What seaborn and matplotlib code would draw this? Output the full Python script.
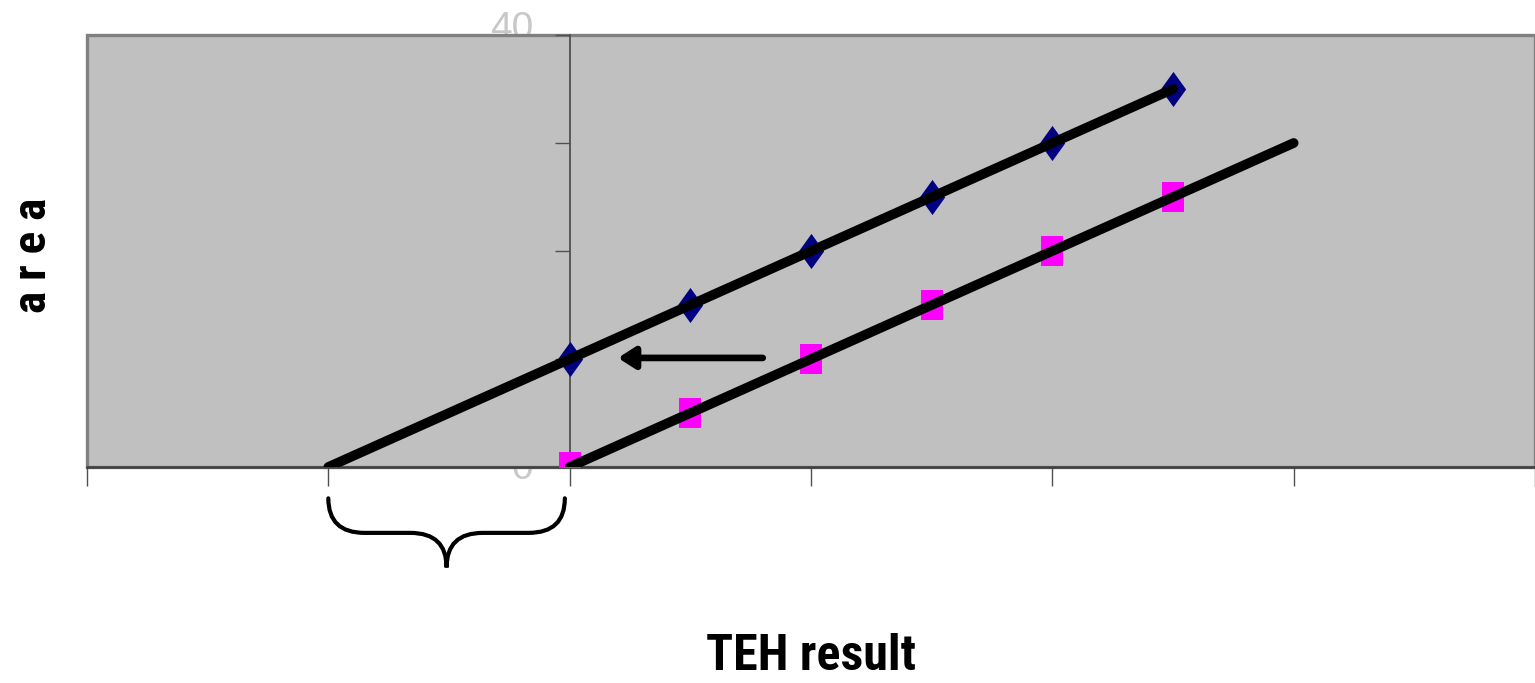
import matplotlib
matplotlib.use("Agg")
import matplotlib.pyplot as plt
from matplotlib.path import Path
from matplotlib.patches import PathPatch
import seaborn as sns

# values
x_points = [0, 0.5, 1, 1.5, 2, 2.5]
spiked = [10, 15, 20, 25, 30, 35]      # navy diamonds
unspiked = [0, 5, 10, 15, 20, 25]      # magenta squares
fit1_x = [-1, 2.5]
fit1_y = [0, 35]
fit2_x = [0, 3]
fit2_y = [0, 30]
x_ticks = [-2, -1, 0, 1, 2, 3, 4]
y_ticks = [0, 10, 20, 30, 40]
y_labels = ["0", "40"]
y_label_vals = [0, 40]

sns.set_style("white")
narrow = ['Liberation Sans Narrow', 'Roboto Condensed', 'Liberation Sans', 'DejaVu Sans']
plt.rcParams['font.family'] = narrow
plt.rcParams['text.color'] = 'black'
plt.rcParams['axes.labelcolor'] = 'black'

fig = plt.figure(figsize=(15.35, 6.83), dpi=100)
ax = fig.add_axes([87/1535, 216/683, 1448/1535, 432/683])
ax.set_facecolor('#C0C0C0')
ax.patch.set_edgecolor('#808080')
ax.patch.set_linewidth(2.4)

# markers
diamond = Path([(0, 1), (0.72, 0), (0, -1), (-0.72, 0), (0, 1)])
box = Path([(-0.72, -1), (0.72, -1), (0.72, 1), (-0.72, 1), (-0.72, -1)])
sns.scatterplot(x=x_points, y=spiked, marker=diamond, s=640, color='#000080',
                linewidth=0, ax=ax, zorder=3)
sns.scatterplot(x=x_points, y=unspiked, marker=box, s=450, color='#FF00FF',
                linewidth=0, ax=ax, zorder=3)

# fitted lines
sns.lineplot(x=fit1_x, y=fit1_y, color='black', linewidth=7, ax=ax, zorder=4,
             solid_capstyle='round')
sns.lineplot(x=fit2_x, y=fit2_y, color='black', linewidth=7, ax=ax, zorder=4,
             solid_capstyle='round')

ax.set_xlim(-2, 4)
ax.set_ylim(0, 40)

# axes: y axis crosses at x=0
for s in ['top', 'right']:
    ax.spines[s].set_visible(False)
ax.spines['left'].set_position(('data', 0))
ax.spines['left'].set_color('#505050')
ax.spines['left'].set_linewidth(1.3)
ax.spines['bottom'].set_color('#404040')
ax.spines['bottom'].set_linewidth(1.8)
ax.set_xticks(x_ticks)
ax.set_yticks(y_ticks)
ax.tick_params(axis='x', direction='out', length=14, width=1.0, color='#505050',
               labelbottom=False, bottom=True)
ax.tick_params(axis='y', direction='out', length=11, width=1.0, color='#505050',
               labelleft=False, left=True)

# tick labels sit behind the plot area, like in the original
label_shift = [-0.2, 0.6]
for lab, v, dy in zip(y_labels, y_label_vals, label_shift):
    fig.text(-0.15, v + dy, lab, transform=ax.transData, ha='right', va='center',
             fontsize=28, color='#C8C8C8', family=['Liberation Sans', 'DejaVu Sans'],
             zorder=-1)

# arrow
ax.annotate('', xy=(0.2, 10.1), xytext=(0.8, 10.1),
            arrowprops=dict(arrowstyle='-|>,head_length=0.5,head_width=0.32',
                            color='black', lw=4.8, mutation_scale=20,
                            shrinkA=0, shrinkB=0, capstyle='round'))

# curly brace under the intercept shift
def brace(ax, x0, x1, y_top, y_mid, y_tip, r=0.15):
    xm = (x0 + x1) / 2
    verts = [(x0, y_top), (x0, y_mid), (x0 + r, y_mid),
             (xm - r, y_mid), (xm, y_mid), (xm, y_tip),
             (xm, y_mid), (xm + r, y_mid),
             (x1 - r, y_mid), (x1, y_mid), (x1, y_top)]
    codes = [Path.MOVETO, Path.CURVE3, Path.CURVE3,
             Path.LINETO, Path.CURVE3, Path.CURVE3,
             Path.CURVE3, Path.CURVE3,
             Path.LINETO, Path.CURVE3, Path.CURVE3]
    p = PathPatch(Path(verts, codes), facecolor='none', edgecolor='black',
                  lw=3, capstyle='round', clip_on=False)
    ax.add_patch(p)

brace(ax, fit1_x[0], fit2_x[0] - 0.02, -2.9, -6.1, -9.3)

ax.set_xlabel('TEH result', fontsize=36, fontweight='bold')
ax.xaxis.set_label_coords(0.5, -0.385)
ax.set_ylabel('a r e a', fontsize=34, fontweight='bold')
ax.yaxis.set_label_coords(-0.022, 0.49)

fig.savefig('out.png', dpi=100)
